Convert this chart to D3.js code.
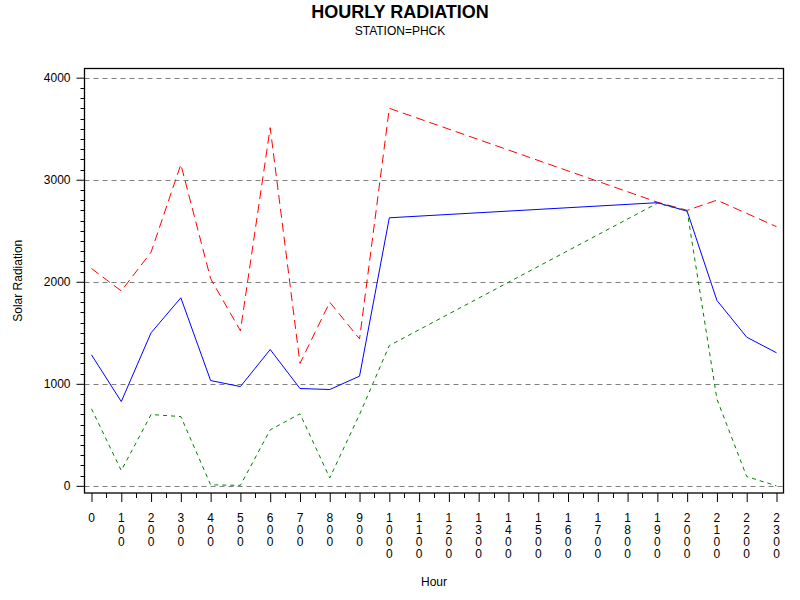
<!DOCTYPE html>
<html>
<head>
<meta charset="utf-8">
<script src="https://cdn.jsdelivr.net/npm/d3@7"></script>
<style>
  html, body { margin: 0; padding: 0; background: #fff; }
  svg { display: block; font-family: "Liberation Sans", Arial, sans-serif; }
</style>
</head>
<body>
<svg id="chart" width="800" height="600"></svg>
<script>
// ---- data ----
const hours = [0, 100, 200, 300, 400, 500, 600, 700, 800, 900, 1000, 1900, 2000, 2100, 2200, 2300];
const maxRadiation  = [2130, 1910, 2290, 3150, 2030, 1520, 3510, 1200, 1800, 1440, 3700, 2780, 2700, 2800, 2670, 2540];
const meanRadiation = [1284, 826, 1500, 1843, 1032, 973, 1336, 954, 944, 1075, 2627, 2775, 2692, 1817, 1457, 1304];
const minRadiation  = [755, 150, 699, 679, 10, 5, 549, 706, 78, 700, 1375, 2770, 2692, 850, 91, 0];
const xTickValues = [0, 100, 200, 300, 400, 500, 600, 700, 800, 900, 1000, 1100, 1200, 1300, 1400, 1500, 1600, 1700, 1800, 1900, 2000, 2100, 2200, 2300];
const yTickValues = [0, 1000, 2000, 3000, 4000];
const titleText = "HOURLY RADIATION";
const subtitleText = "STATION=PHCK";
const xTitle = "Hour";
const yTitle = "Solar Radiation";

(function () {
// ---- layout ----
const pl = 84.5, pr = 783.5, pt = 68.5, pb = 493;
const svg = d3.select("#chart");

const x = d3.scaleLinear().domain([-23.5, 2323.5]).range([pl, pr]);
const y = d3.scaleLinear().domain([-70, 4090]).range([pb, pt]);

// title
svg.append("text").attr("x", 400).attr("y", 17.5).attr("text-anchor", "middle")
  .attr("font-size", 18).attr("font-weight", "bold").text(titleText);
svg.append("text").attr("x", 400).attr("y", 35).attr("text-anchor", "middle")
  .attr("font-size", 12).text(subtitleText);

// grid lines
svg.append("g").selectAll("line").data(yTickValues).join("line")
  .attr("x1", pl).attr("x2", pr)
  .attr("y1", d => Math.round(y(d)) + 0.5).attr("y2", d => Math.round(y(d)) + 0.5)
  .attr("stroke", "#808080").attr("stroke-width", 1).attr("stroke-dasharray", "5,4");

// y axis
const yMinor = d3.range(0, 4001, 100).filter(v => v % 1000 !== 0);
const yAxis = d3.axisLeft(y).tickValues(yTickValues).tickSize(8).tickPadding(6).tickFormat(d3.format("d"));
const gy = svg.append("g").attr("transform", `translate(${pl},0)`).call(yAxis);
gy.select(".domain").remove();
gy.selectAll("text").attr("font-size", 12).attr("font-family", "Liberation Sans, Arial, sans-serif");
svg.append("g").selectAll("line").data(yMinor).join("line")
  .attr("x1", pl - 4).attr("x2", pl)
  .attr("y1", d => Math.round(y(d)) + 0.5).attr("y2", d => Math.round(y(d)) + 0.5)
  .attr("stroke", "#000");

// x axis
const xMinor = d3.range(50, 2300, 100);
const xAxis = d3.axisBottom(x).tickValues(xTickValues).tickSize(9).tickFormat("");
const gx = svg.append("g").attr("transform", `translate(0,${pb})`).call(xAxis);
gx.select(".domain").remove();
svg.append("g").selectAll("line").data(xMinor).join("line")
  .attr("x1", d => Math.round(x(d)) + 0.5).attr("x2", d => Math.round(x(d)) + 0.5)
  .attr("y1", pb).attr("y2", pb + 5)
  .attr("stroke", "#000");
// stacked digit tick labels
const xl = svg.append("g").attr("font-size", 12).attr("text-anchor", "middle");
xTickValues.forEach(v => {
  const s = String(v);
  const t = xl.append("text").attr("x", x(v));
  s.split("").forEach((ch, i) => {
    t.append("tspan").attr("x", x(v)).attr("y", 522 + i * 12).text(ch);
  });
});

// frame
svg.append("rect").attr("x", pl).attr("y", pt).attr("width", pr - pl).attr("height", pb - pt)
  .attr("fill", "none").attr("stroke", "#000").attr("stroke-width", 1.3);

// axis titles
svg.append("text").attr("x", (pl + pr) / 2).attr("y", 586).attr("text-anchor", "middle")
  .attr("font-size", 12).text(xTitle);
svg.append("text").attr("transform", `translate(22,${(pt + pb) / 2}) rotate(-90)`)
  .attr("text-anchor", "middle").attr("font-size", 12).text(yTitle);

// series
const line = d3.line().x((d, i) => x(hours[i])).y(d => y(d));
const series = [
  { values: maxRadiation, color: "#ff0000", dash: "9,5" },
  { values: meanRadiation, color: "#0000ff", dash: null },
  { values: minRadiation, color: "#008000", dash: "4,4" }
];
svg.append("g").selectAll("path").data(series).join("path")
  .attr("d", d => line(d.values))
  .attr("fill", "none")
  .attr("stroke", d => d.color)
  .attr("stroke-width", 1)
  .attr("stroke-dasharray", d => d.dash);
})();
</script>
</body>
</html>
